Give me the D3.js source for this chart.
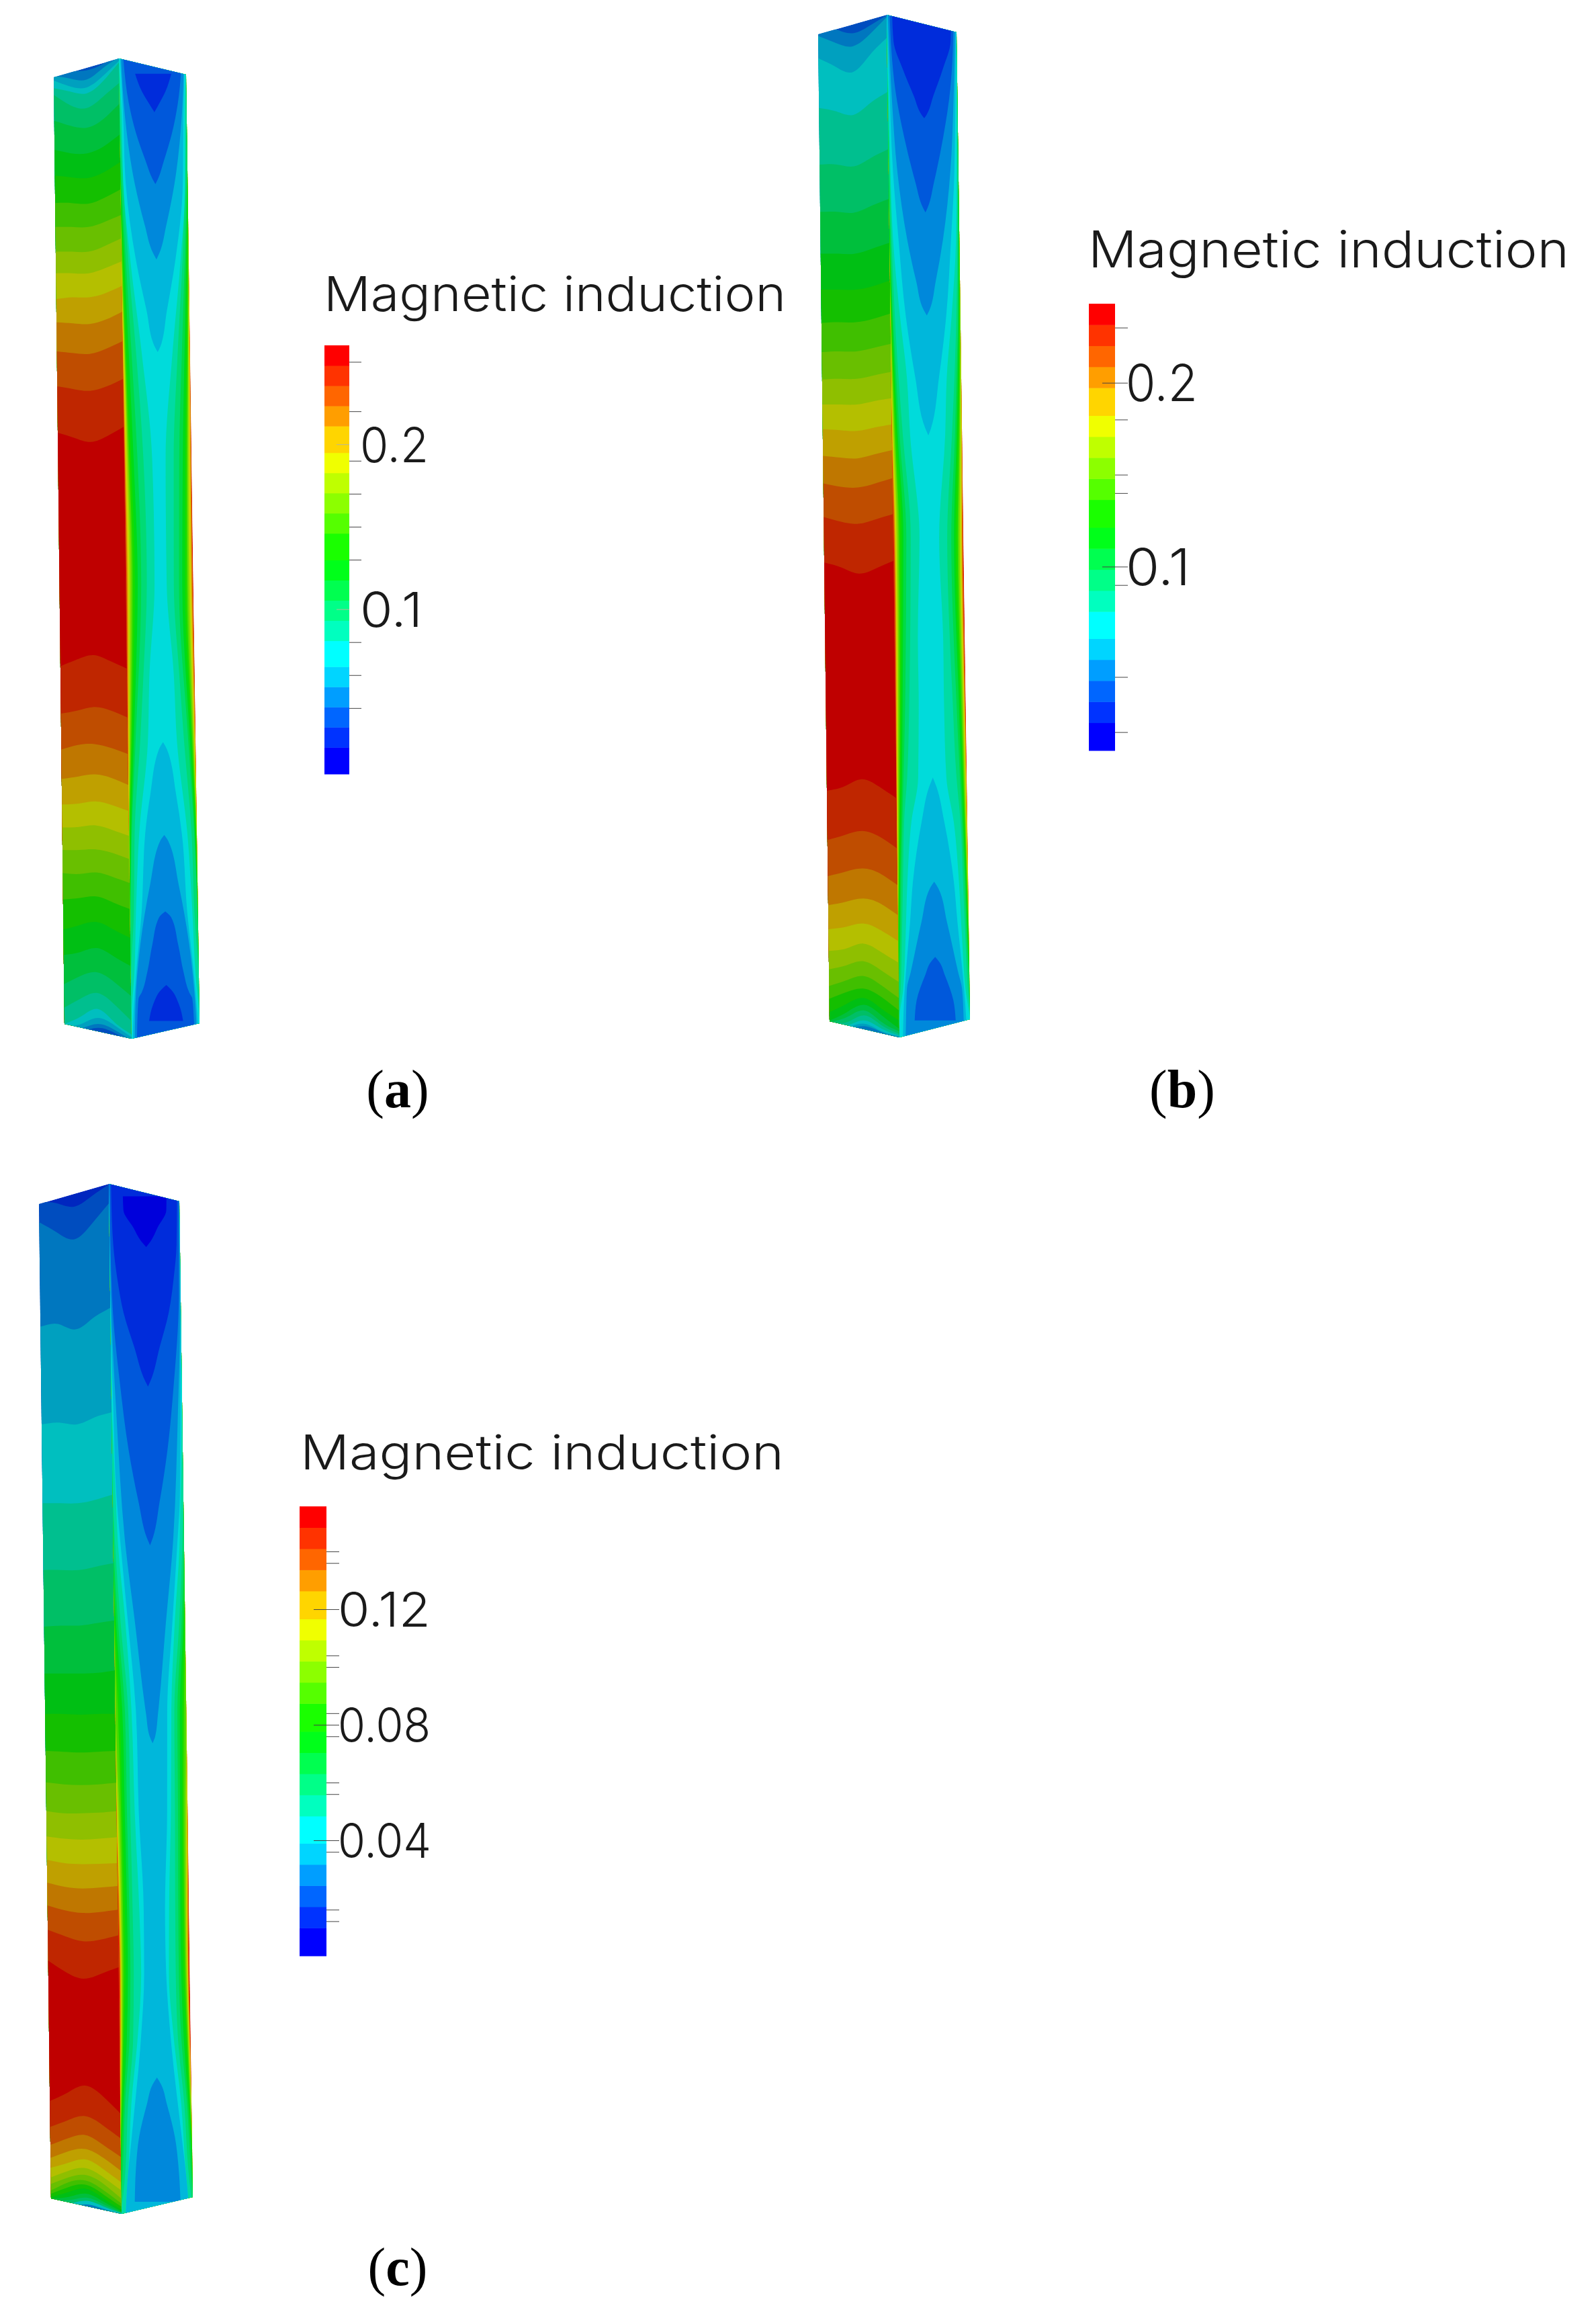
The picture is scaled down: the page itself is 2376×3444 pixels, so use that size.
<!DOCTYPE html>
<html><head><meta charset="utf-8">
<script src="https://cdn.jsdelivr.net/npm/d3@7"></script>
<style>html,body{margin:0;padding:0;background:#fff}svg{display:block}</style>
</head><body><div id="chart"></div>
<script>
const bandColors = ["#0000ff","#0033ff","#0066ff","#009eff","#00d5ff","#00ffff","#00ffbf","#00ff88","#00ff50","#00ff1a","#1aff00","#55ff00","#8cff00","#bfff00","#f0ff00","#ffd500","#ff9e00","#ff6600","#ff3300","#ff0000"];
const bandWeights = [78,59,59,59,59,76,59,59,59,59,78,59,59,59,59,78,59,59,59,59];
const titleText = "Magnetic induction";
const legendMaxA = 0.26,  majorA = [0.2,0.1], minorA = [0.25,0.22,0.19,0.17,0.15,0.13,0.08,0.06,0.04];
const legendMaxB = 0.243, majorB = [0.2,0.1], minorB = [0.23,0.18,0.15,0.14,0.09,0.04,0.01];
const legendMaxC = 0.1556, majorC = [0.12,0.08,0.04], minorC = [0.14,0.136,0.104,0.1,0.084,0.076,0.06,0.056,0.036,0.016,0.012];
const leftUpperA = [[3,75,70,68,50,20],[4,85,92,95,62,30],[5,98,115,118,85,40],[6,120,130,135,100,45],[7,140,170,178,145,105],[8,215,230,235,210,165],[9,300,310,310,290,255],[10,375,380,382,365,335],[11,455,455,457,440,415],[12,525,525,525,510,490],[13,597,597,597,580,558],[14,660,660,660,645,625],[15,735,730,730,718,697],[16,803,806,808,795,772],[17,888,893,895,880,858],[18,990,998,1003,990,968],[19,1125,1140,1152,1135,1108]];
const leftLowerA = [[18,272,250,235,255,280],[17,430,420,408,420,443],[16,550,535,532,545,565],[15,648,640,633,645,668],[14,733,730,723,735,755],[13,810,808,803,818,838],[12,885,885,883,895,915],[11,962,965,960,975,995],[10,1050,1045,1040,1060,1082],[9,1150,1135,1125,1150,1178],[8,1235,1225,1212,1240,1272],[7,1332,1305,1293,1325,1372],[6,1410,1380,1362,1400,1455],[5,1465,1440,1415,1460,1500],[4,1475,1465,1445,1470,1510],[3,1490,1480,1465,1485,1520],[2,1495,1490,1478,1495,1525]];
const leftUpperB = [[3,70,85,97,75,45],[4,105,125,135,100,50],[5,170,195,210,160,110],[6,315,325,335,300,268],[7,480,480,485,460,435],[8,618,618,620,600,580],[9,740,740,740,725,708],[10,845,845,845,835,818],[11,942,940,940,930,915],[12,1027,1025,1025,1015,1003],[13,1107,1105,1105,1095,1085],[14,1180,1180,1180,1170,1162],[15,1252,1255,1257,1247,1238],[16,1330,1335,1337,1325,1313],[17,1410,1420,1422,1410,1395],[18,1508,1522,1528,1515,1500]];
const leftLowerB = [[19,75,90,108,92,70],[18,758,745,723,745,780],[17,905,890,878,895,930],[16,1013,1000,990,1005,1040],[15,1100,1090,1080,1095,1130],[14,1172,1165,1155,1175,1207],[13,1237,1230,1215,1240,1272],[12,1292,1280,1268,1295,1330],[11,1342,1325,1312,1340,1378],[10,1380,1360,1350,1375,1415],[9,1420,1395,1378,1410,1445],[8,1445,1420,1398,1430,1470],[7,1450,1435,1415,1450,1478],[6,1450,1450,1430,1460,1485],[5,1460,1460,1445,1470,1490],[4,1465,1465,1455,1478,1492],[3,1470,1470,1462,1480,1495]];
const leftUpperC = [[2,75,80,90,60,25],[3,135,165,185,140,80],[4,440,432,448,415,385],[5,725,720,725,705,690],[6,955,955,955,945,930],[7,1150,1150,1150,1140,1130],[8,1315,1312,1312,1305,1297],[9,1452,1452,1452,1450,1443]];
const leftLowerC = [[10,2,2,4,2,2],[11,115,118,120,118,115],[12,212,218,220,218,213],[13,300,307,307,305,300],[14,378,385,388,385,380],[15,450,460,463,462,460],[16,520,533,538,535,530],[17,590,605,613,610,603],[18,665,685,700,695,682],[19,760,795,815,800,780],[18,1190,1165,1143,1175,1228],[17,1270,1250,1237,1265,1305],[16,1325,1305,1295,1325,1362],[15,1365,1345,1338,1365,1405],[14,1395,1380,1370,1400,1440],[13,1425,1405,1397,1425,1465],[12,1445,1425,1418,1445,1490],[11,1465,1440,1435,1465,1505],[10,1475,1455,1448,1478,1515],[9,1485,1470,1460,1490,1525],[8,1490,1485,1475,1500,1530],[7,1492,1495,1487,1508,1533],[5,1495,1505,1497,1515,1535],[3,1495,1512,1508,1522,1537]];
const rightA = [
[18,[1100,0,1568,.008],[150,0]],
[17,[950,0,1568,.02],[300,0]],
[16,[850,0,1200,.02,1568,.03],[400,.01,525,0]],
[15,[770,0,1200,.03,1568,.05],[525,.012,640,0]],
[14,[700,0,1200,.05,1568,.075],[525,.025,740,0]],
[13,[650,0,890,.04,1200,.07,1568,.1],[525,.04,800,0]],
[12,[590,0,890,.05,1200,.1,1568,.13],[525,.056,880,0]],
[11,[530,0,890,.06,1200,.12,1568,.165],[525,.075,830,.01,980,0]],
[10,[470,0,890,.08,1200,.15,1568,.2],[525,.1,830,.02,1050,0]],
[9,[420,0,620,.05,890,.11,1200,.2,1568,.26],[525,.125,830,.04,1100,0]],
[8,[350,0,620,.08,890,.17,1200,.27,1568,.34],[525,.17,830,.06,1150,0]],
[7,[300,0,500,.07,890,.25,1200,.38,1568,.44],[525,.22,830,.08,1200,0]],
[6,[150,0,300,.04,620,.19,890,.38,1200,.55,1568,.6],[300,.47,525,.35,830,.16,1090,.11,1330,0]],
[5,[30,0,200,.06,400,.08,620,.25,890,.54,1200,.8,1568,.82],[300,.64,525,.57,830,.29,1090,.17,1300,.1,1450,0]],
[4,[25,.03,200,.1,400,.15,620,.41,770,.7,870,.9,890,1],[]],
[4,[],[525,1,550,.88,700,.62,830,.46,1090,.33,1300,.15,1500,.04,1568,.03]],
[3,[25,.06,200,.15,400,.41,520,.68,600,.9,620,1],[]],
[3,[],[835,1,855,.88,1000,.58,1200,.28,1400,.12,1568,.08]],
[2,[25,.12,165,.27,250,.46,330,.72,385,.92,400,1],[]],
[2,[],[1090,1,1110,.82,1200,.62,1290,.47,1360,.3,1380,.21,1450,.17,1568,.14]],
[1,[78,.46,130,.65,165,.85,182,.95,190,1],[]],
[1,[],[1335,1,1350,.86,1400,.62,1455,.5]]];
const rightB = [
[18,[1500,0,1568,.006],[300,.005,600,0]],
[17,[1380,0,1568,.02],[500,.01,750,0]],
[16,[1300,0,1568,.03],[500,.02,850,0]],
[15,[1200,0,1568,.05],[500,.03,950,0]],
[14,[1130,0,1300,.02,1568,.06],[500,.045,1030,0]],
[13,[1030,0,1270,.03,1568,.085],[500,.06,1000,.01,1100,0]],
[12,[950,0,1270,.05,1568,.11],[500,.08,1030,.02,1150,0]],
[11,[850,0,1270,.07,1568,.14],[500,.1,1030,.03,1200,0]],
[10,[750,0,1100,.05,1270,.09,1568,.17],[500,.13,1030,.04,1250,0]],
[9,[650,0,1000,.05,1270,.13,1568,.23],[500,.16,1030,.05,1300,0]],
[8,[550,0,920,.05,1100,.1,1270,.16,1568,.28],[500,.2,718,.16,1030,.07,1200,.04,1340,0]],
[7,[400,0,700,.03,920,.07,1100,.14,1270,.21,1568,.36],[500,.27,718,.2,1030,.1,1200,.06,1380,0]],
[6,[250,0,500,.03,700,.06,920,.12,1100,.2,1270,.3,1568,.48],[500,.38,718,.3,850,.2,1030,.15,1200,.1,1350,.05,1420,0]],
[5,[100,0,300,.03,500,.05,700,.1,920,.26,1100,.43,1270,.5,1568,.72],[300,.64,500,.64,718,.6,850,.4,1030,.27,1200,.2,1350,.12,1450,0]],
[4,[25,0,200,.04,500,.12,700,.25,920,.42,1100,.66,1250,.92,1270,1],[]],
[4,[],[718,1,745,.9,850,.68,1030,.42,1150,.33,1300,.2,1400,.13,1568,.08]],
[3,[25,.03,300,.12,500,.24,700,.49,820,.72,905,.92,920,1],[]],
[3,[],[1030,1,1050,.88,1150,.64,1300,.33,1350,.22,1460,.18,1568,.15]],
[2,[25,.08,150,.12,260,.21,400,.44,530,.73,605,.93,620,1],[]],
[2,[],[1255,1,1270,.88,1310,.72,1385,.48,1445,.42]],
[1,[25,.15,120,.18,200,.42,280,.72,335,.93,345,1],[]]];
const rightC = [
[18,[],[560,0,800,.015,1050,0]],
[17,[],[500,0,800,.025,1100,0]],
[16,[],[420,0,700,.035,900,.035,1150,0]],
[15,[],[320,0,600,.04,800,.05,1000,.03,1190,0]],
[14,[],[230,0,450,.03,600,.055,800,.06,1000,.04,1220,0]],
[13,[],[150,0,400,.04,600,.07,800,.075,1000,.05,1250,0]],
[12,[],[50,0,300,.05,600,.09,800,.09,1000,.065,1200,.02,1280,0]],
[11,[1450,0],[100,.03,300,.08,600,.11,800,.11,1000,.08,1200,.03,1300,0]],
[10,[1300,0,1568,.07],[300,.12,600,.14,800,.14,1000,.1,1200,.045,1350,0]],
[9,[1200,0,1568,.12],[300,.16,600,.19,800,.19,1000,.13,1200,.06,1400,0]],
[8,[1150,0,1300,.05,1568,.19],[300,.22,600,.25,800,.25,1000,.2,1200,.09,1450,0]],
[7,[1050,0,1300,.1,1568,.26],[300,.28,600,.31,800,.32,1000,.27,1200,.13,1400,.05,1500,0]],
[6,[900,0,1100,.06,1300,.17,1568,.35],[300,.37,600,.4,800,.41,1000,.37,1200,.21,1400,.12,1480,.05,1520,0]],
[5,[650,0,800,.04,930,.08,1078,.13,1300,.3,1568,.44],[300,.49,600,.58,800,.61,1000,.49,1200,.3,1400,.2,1500,.13,1568,.1]],
[4,[400,0,700,.05,930,.1,1078,.2,1300,.37,1568,.56],[300,.6,600,.7,800,.69,1000,.58,1300,.3,1450,.16,1568,.1]],
[3,[25,0,420,.03,700,.13,1078,.33,1300,.56,1568,.83],[70,.92,92,1]],
[3,[],[1118,1,1140,.88,1200,.72,1300,.5,1400,.4,1500,.36]],
[2,[25,.02,350,.05,420,.08,600,.23,800,.45,950,.7,1060,.93,1078,1],[]],
[1,[25,.06,200,.1,300,.2,400,.36,500,.64,600,.93,615,1],[]],
[0,[60,.38,100,.39,150,.65,190,.86,203,.96,208,1],[]]];
const uStops = [-0.3,0,0.25,0.5,0.75,1,1.3];
const leftShade = 0.75, rightShade = 0.86, centreShare = 0.52;
const layout = [
 {name:"a", leftU:leftUpperA, leftL:leftLowerA, right:rightA, base:2, max:legendMaxA, major:majorA, minor:minorA,
  axial:[70,870,1570], corners:[[80,115],[177,87],[277,111],[96,1524],[196,1546],[297,1523]],
  bar:[483,520,514,1152], tickEnd:538, majorStart:501, majorEnd:520, majorColor:"#b8b89a", labelX:536, labelW:{"0.2":102,"0.1":93},
  title:[482,463,688], size:72, caption:[592,1648]},
 {name:"b", leftU:leftUpperB, leftL:leftLowerB, right:rightB, base:2, max:legendMaxB, major:majorB, minor:minorB,
  axial:[0,800,1580], corners:[[1218,51],[1320,22],[1424,48],[1235,1520],[1339,1544],[1444,1517]],
  bar:[1621,1660,452,1117], tickEnd:1679, majorStart:1641, majorEnd:1679, majorColor:"#444", labelX:1676, labelW:{"0.2":107,"0.1":96},
  title:[1620,398,716], size:75, caption:[1760,1648]},
 {name:"c", leftU:leftUpperC, leftL:leftLowerC, right:rightC, base:1, max:legendMaxC, major:majorC, minor:minorC,
  axial:[1750,2550,3310], corners:[[58,1792],[162,1762],[267,1788],[76,3272],[181,3295],[287,3270]],
  bar:[446,486,2242,2911], tickEnd:505, majorStart:467, majorEnd:505, majorColor:"#444", labelX:503, labelW:{"0.12":138,"0.08":138,"0.04":139},
  title:[447,2187,720], size:71, caption:[592,3401]}
];
const svg = d3.select("#chart").append("svg").attr("width",2376).attr("height",3444);
svg.append("rect").attr("width",2376).attr("height",3444).attr("fill","#fff");
const defs = svg.append("defs");
const rootG = svg.append("g").attr("id","root");
const fontFam = "Inter, Roboto, sans-serif";
function shade(hex,f){const c=d3.rgb(hex);return d3.rgb(c.r*f,c.g*f,c.b*f).formatHex();}
layout.forEach(p=>{
  const [TL,TA,TR,BL,BA,BR]=p.corners;
  const g = rootG.append("g").attr("class","panel-"+p.name);
  const upperY = d3.scaleLinear().domain([0,1568]).range([p.axial[0],p.axial[1]]);
  const lowerY = d3.scaleLinear().domain([0,1568]).range([p.axial[1],p.axial[2]]);
  const xL = d3.scaleLinear().domain([TL[1],BL[1]]).range([TL[0],BL[0]]);
  const xM = d3.scaleLinear().domain([TA[1],BA[1]]).range([TA[0],BA[0]]);
  const xR = d3.scaleLinear().domain([TR[1],BR[1]]).range([TR[0],BR[0]]);
  const bottom = d3.max([BL[1],BA[1],BR[1]])+40, top = d3.min([TL[1],TA[1],TR[1]])-40;
  const polyL=[TL,TA,BA,BL], polyR=[TA,TR,BR,BA];
  defs.append("clipPath").attr("id","cl"+p.name).append("polygon").attr("points",polyL.join(" "));
  defs.append("clipPath").attr("id","cr"+p.name).append("polygon").attr("points",polyR.join(" "));
  const gl = g.append("g").attr("clip-path",`url(#cl${p.name})`);
  gl.append("polygon").attr("points",polyL.join(" ")).attr("fill",shade(bandColors[p.base],leftShade));
  const area = d3.area().curve(d3.curveNatural)
     .x(d=>{const a=xL(d.y),b=xM(d.y);return a+(b-a)*d.u;}).y1(d=>d.y).y0(bottom);
  const lines = p.leftU.map(r=>({band:r[0],ys:r.slice(1).map(upperY)}))
        .concat(p.leftL.map(r=>({band:r[0],ys:r.slice(1).map(lowerY)})));
  gl.selectAll("path.iso").data(lines).join("path").attr("class","iso")
    .attr("fill",d=>shade(bandColors[d.band],leftShade))
    .attr("d",d=>{
      const ys=[d.ys[0]+(d.ys[0]-d.ys[1])*1.2,...d.ys,d.ys[4]+(d.ys[4]-d.ys[3])*1.2];
      return area(uStops.map((u,i)=>({u,y:ys[i]})));
    });
  const gr = g.append("g").attr("clip-path",`url(#cr${p.name})`);
  gr.append("polygon").attr("points",polyR.join(" ")).attr("fill",shade(bandColors[19],rightShade));
  const c = centreShare;
  const rarea = d3.area().curve(d3.curveMonotoneY).y(d=>d.y)
    .x0(d=>{const a=xM(d.y),b=xR(d.y);return a+(b-a)*c*d.s;})
    .x1(d=>{const a=xM(d.y),b=xR(d.y);return b-(b-a)*(1-c)*d.s;});
  const regions = p.right.map(r=>{
    let pts=[];
    for(let i=0;i<r[1].length;i+=2) pts.push({y:upperY(r[1][i]),s:r[1][i+1]});
    for(let i=0;i<r[2].length;i+=2){
      const y=lowerY(r[2][i]);
      if(!pts.length||y>pts[pts.length-1].y+0.5) pts.push({y,s:r[2][i+1]});
    }
    if(pts[0].s===0) pts.unshift({y:top,s:0});
    if(pts[pts.length-1].s===0) pts.push({y:bottom,s:0});
    return {band:r[0],pts};
  });
  gr.selectAll("path.region").data(regions).join("path").attr("class","region")
    .attr("fill",d=>shade(bandColors[d.band],rightShade))
    .attr("d",d=>rarea(d.pts));
  const [bx0,bx1,by0,by1]=p.bar;
  const val = d3.scaleLinear().domain([0,p.max]).range([by1,by0]);
  const total = d3.sum(bandWeights);
  const edges = d3.cumsum(bandWeights).map(v=>v/total*p.max);
  const bands = bandColors.map((col,i)=>({col,v0:i?edges[i-1]:0,v1:edges[i]}));
  const lg = g.append("g").attr("class","legend");
  lg.selectAll("rect").data(bands).join("rect")
    .attr("x",bx0).attr("width",bx1-bx0)
    .attr("y",d=>val(d.v1)).attr("height",d=>val(d.v0)-val(d.v1)+0.5)
    .attr("fill",d=>d.col);
  const minorAxis = d3.axisRight(val).tickValues(p.minor).tickSize(p.tickEnd-bx1).tickFormat("");
  const ma = lg.append("g").attr("transform",`translate(${bx1},0)`).call(minorAxis);
  ma.select(".domain").remove();
  ma.selectAll("line").attr("stroke","#444").attr("stroke-width",1);
  const majorAxis = d3.axisRight(val).tickValues(p.major).tickSize(p.majorEnd-p.majorStart).tickFormat(d=>String(d));
  const mj = lg.append("g").attr("transform",`translate(${p.majorStart},0)`).call(majorAxis);
  mj.select(".domain").remove();
  mj.selectAll("line").attr("stroke",p.majorColor).attr("stroke-width",1);
  mj.selectAll("text")
    .attr("x",p.labelX-p.majorStart).attr("dy","0.36em")
    .attr("fill","#1a1a1a").attr("text-anchor","start")
    .style("font-family",fontFam).style("font-weight",300).style("font-size",p.size+"px")
    .attr("textLength",d=>p.labelW[String(d)]).attr("lengthAdjust","spacingAndGlyphs");
  lg.append("text").attr("x",p.title[0]).attr("y",p.title[1]).text(titleText)
    .attr("fill","#1a1a1a").style("font-family",fontFam).style("font-weight",300).style("font-size",p.size+"px")
    .attr("textLength",p.title[2]).attr("lengthAdjust","spacingAndGlyphs");
  const cap = g.append("text").attr("x",p.caption[0]).attr("y",p.caption[1]).attr("text-anchor","middle")
    .attr("fill","#000").style("font-family","'Liberation Serif', serif").style("font-size","80px");
  cap.append("tspan").text("(");
  cap.append("tspan").style("font-weight","bold").text(p.name);
  cap.append("tspan").text(")");
});
</script></body></html>
